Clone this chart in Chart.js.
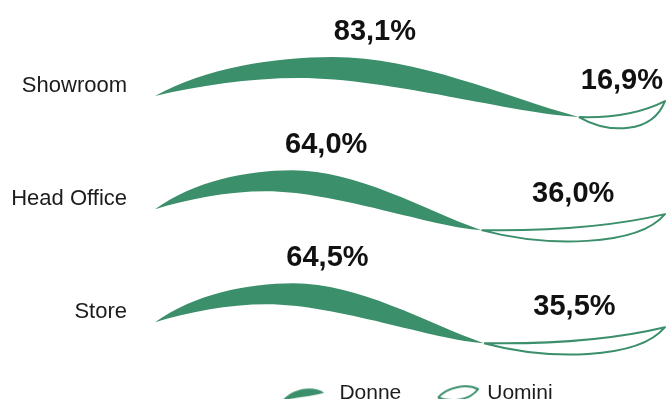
<!DOCTYPE html>
<html lang="it">
<head>
<meta charset="UTF-8">
<title>Donne e Uomini per sede</title>
<script src="https://cdn.jsdelivr.net/npm/chart.js"></script>
<style>
  html, body { margin: 0; padding: 0; background: #fff; }
  .wrap { width: 666px; height: 399px; }
</style>
</head>
<body>
<div class="wrap"><canvas id="leafChart"></canvas></div>
<script>
// dati per sede (percentuali)
const sedi = ['Showroom', 'Head Office', 'Store'];
const serie = ['Donne', 'Uomini'];
const donne = [83.1, 64.0, 64.5];
const uomini = [16.9, 36.0, 35.5];

const VERDE = '#3b8f6b';
const TESTO = '#1c1c1c';
const FONT = '"Liberation Sans", Arial, Helvetica, sans-serif';

const fmt = v => v.toFixed(1).replace('.', ',') + '%';

// icone a foglia per la legenda
function leafIcon(filled) {
  const c = document.createElement('canvas');
  c.width = 80; c.height = 18;
  const g = c.getContext('2d');
  g.fillStyle = VERDE;
  g.strokeStyle = VERDE;
  g.lineWidth = 2;
  g.lineJoin = 'round';
  g.beginPath();
  if (filled) {
    g.moveTo(24, 16.5);
    g.bezierCurveTo(33, 5, 54, 0, 66, 8.5);
    g.bezierCurveTo(54, 12, 38, 13, 24, 16.5);
    g.fill();
  } else {
    g.moveTo(32, 13.5);
    g.bezierCurveTo(41, 3, 61, -1, 72, 5);
    g.bezierCurveTo(63, 17, 44, 18, 32, 13.5);
    g.stroke();
  }
  return c;
}
const icone = [leafIcon(true), leafIcon(false)];

// coppia di foglie di una riga: piena da x0 a xs, vuota da xs a x1
function drawRow(ctx, x0, xs, x1, yT) {
  const L = xs - x0, U = x1 - xs;
  const X = u => x0 + u * L;
  const Y = d => yT + d;
  ctx.beginPath();
  ctx.moveTo(X(0), Y(0));
  ctx.bezierCurveTo(X(0.12), Y(-28), X(0.28), Y(-39), X(0.42), Y(-39));
  ctx.bezierCurveTo(X(0.62), Y(-39), X(0.82), Y(0), X(1), Y(21));
  ctx.bezierCurveTo(X(0.85), Y(18), X(0.55), Y(-18), X(0.34), Y(-18));
  ctx.bezierCurveTo(X(0.22), Y(-18), X(0.1), Y(-10), X(0), Y(0));
  ctx.fill();

  ctx.beginPath();
  ctx.moveTo(xs, Y(21));
  ctx.bezierCurveTo(xs + 0.35 * U, Y(22), xs + 0.7 * U, Y(18), x1, Y(5));
  ctx.bezierCurveTo(xs + 0.85 * U, Y(38), xs + 0.35 * U, Y(38), xs, Y(21));
  ctx.stroke();
}

const foglie = {
  id: 'foglie',
  beforeDatasetDraw() { return false; },
  afterDatasetsDraw(chart) {
    const ctx = chart.ctx;
    const mD = chart.getDatasetMeta(0);
    const mU = chart.getDatasetMeta(1);
    const right = chart.chartArea.right;
    ctx.save();
    ctx.strokeStyle = VERDE;
    ctx.lineWidth = 2;
    ctx.lineJoin = 'round';
    mD.data.forEach((bar, i) => {
      const x0 = bar.base, xs = bar.x, x1 = mU.data[i].x;
      const yT = bar.y + 10;
      ctx.fillStyle = VERDE;
      drawRow(ctx, x0, xs, x1, yT);

      ctx.fillStyle = '#111';
      ctx.font = 'bold 29px ' + FONT;
      ctx.textAlign = 'center';
      ctx.textBaseline = 'middle';
      ctx.fillText(fmt(donne[i]), (x0 + xs) / 2 + 8, yT - 64);
      const t = fmt(uomini[i]);
      const w = ctx.measureText(t).width;
      const cx = Math.min((xs + x1) / 2, right - w / 2);
      ctx.fillText(t, cx, yT - 15);
    });
    ctx.restore();
  }
};

new Chart(document.getElementById('leafChart'), {
  type: 'bar',
  data: {
    labels: sedi,
    datasets: [
      { label: serie[0], data: donne, backgroundColor: VERDE },
      { label: serie[1], data: uomini, backgroundColor: 'transparent', borderColor: VERDE }
    ]
  },
  options: {
    indexAxis: 'y',
    responsive: true,
    maintainAspectRatio: false,
    animation: false,
    layout: { padding: { left: 0, right: 1, top: 29.5, bottom: -14.75 } },
    scales: {
      x: { stacked: true, min: 0, max: 100, display: false },
      y: {
        stacked: true,
        grid: { display: false, drawTicks: false },
        border: { display: false },
        ticks: { color: TESTO, padding: 28, font: { family: FONT, size: 22 } },
        afterFit(scale) {
          scale.width = 155;
          scale.paddingTop = 0;
          scale.paddingBottom = 0;
        }
      }
    },
    plugins: {
      tooltip: { enabled: false },
      legend: {
        position: 'bottom',
        fullSize: false,
        labels: {
          usePointStyle: true,
          pointStyleWidth: 61.5,
          padding: 14,
          color: TESTO,
          font: { family: FONT, size: 21 },
          generateLabels(chart) {
            return chart.data.datasets.map((ds, i) => ({
              text: ds.label,
              pointStyle: icone[i],
              fillStyle: VERDE,
              strokeStyle: VERDE,
              fontColor: TESTO,
              lineWidth: 0,
              datasetIndex: i
            }));
          }
        }
      }
    }
  },
  plugins: [foglie]
});
</script>
</body>
</html>
